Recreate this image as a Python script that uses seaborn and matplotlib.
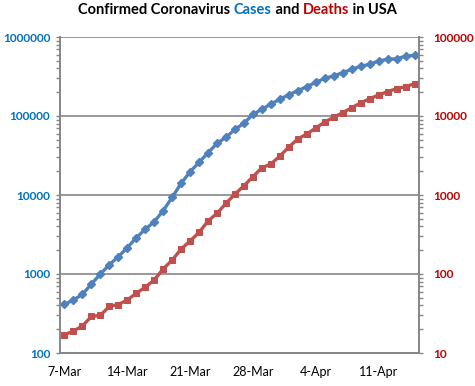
import matplotlib as mpl
import matplotlib.pyplot as plt
import matplotlib.ticker as mticker
from matplotlib.offsetbox import TextArea, HPacker, AnchoredOffsetbox
import seaborn as sns
import pandas as pd
import numpy as np

# Daily totals, 7-Mar to 15-Apr
dates = pd.date_range("2020-03-07", "2020-04-15", freq="D")
cases = [413, 469, 553, 747, 1000, 1311, 1656, 2152, 2880, 3680,
         4590, 6330, 9350, 14060, 19720, 25940, 34290, 45100, 53750, 67900,
         80850, 105100, 121600, 141900, 162600, 186200, 209000, 234900, 267000, 300000,
         322000, 353000, 390000, 426000, 451000, 497000, 522000, 531000, 570000, 586000]
deaths = [17, 19, 22, 29, 30, 39, 41, 47, 57, 68,
          84, 116, 150, 207, 262, 337, 469, 587, 785, 1030,
          1307, 1706, 2216, 2468, 3116, 4052, 5117, 5916, 7046, 8395,
          9635, 11020, 12740, 14620, 16560, 18450, 20320, 22190, 23500, 25640]
date_labels = ["7-Mar", "14-Mar", "21-Mar", "28-Mar", "4-Apr", "11-Apr"]

df = pd.DataFrame({"day": np.arange(len(dates)), "cases": cases, "deaths": deaths})

sns.set_style("white")
plt.rcParams['font.family'] = ['Lato', 'DejaVu Sans']

grey = '#868686'
blue_line = '#4F81BD'
red_line = '#C0504D'
blue_txt = '#0070C0'
red_txt = '#C00000'

fig = plt.figure(figsize=(4.75, 3.86), dpi=100)
ax = fig.add_axes([60 / 475, 1 - 353 / 386, 359 / 475, 316 / 386])
ax2 = ax.twinx()

sns.lineplot(data=df, x="day", y="cases", ax=ax, color=blue_line, linewidth=2.4,
             marker='D', markersize=4.5, markeredgecolor=blue_line, markeredgewidth=1)
sns.lineplot(data=df, x="day", y="deaths", ax=ax2, color=red_line, linewidth=2.4,
             marker='s', markersize=5, markeredgecolor=red_line)

for a, lo, hi, col in [(ax, 100, 1e6, blue_txt), (ax2, 10, 1e5, red_txt)]:
    a.set_yscale('log')
    a.set_ylim(lo, hi)
    a.yaxis.set_major_locator(mticker.LogLocator(base=10))
    a.yaxis.set_minor_locator(mticker.LogLocator(base=10, subs=np.arange(2, 10)))
    a.yaxis.set_major_formatter(mticker.FuncFormatter(lambda v, p: f"{int(round(v))}"))
    a.yaxis.set_minor_formatter(mticker.NullFormatter())
    a.tick_params(axis='y', which='both', direction='out', length=3, width=1, color=grey,
                  labelcolor=col, labelsize=8.5)
    for lab in a.get_yticklabels():
        lab.set_fontweight('bold')
    a.set_ylabel("")
    a.set_xlabel("")
    for s in a.spines.values():
        s.set_color(grey)
        s.set_linewidth(1.2)
    a.spines['top'].set_visible(False)

ax.tick_params(axis='y', pad=4)
ax2.tick_params(axis='y', pad=7)
ax.yaxis.grid(True, which='major', color=grey, linewidth=1.2)
ax.set_axisbelow(True)

ax.set_xlim(-0.5, len(dates) - 0.5)
ax.set_xticks(np.arange(-0.5, 35, 7))
ax.set_xticks(np.arange(0, 40, 7), minor=True)
ax.set_xticklabels([])
ax.set_xticklabels(date_labels, minor=True)
ax.tick_params(axis='x', which='major', direction='out', length=3, width=1, color=grey)
ax.tick_params(axis='x', which='minor', length=0, pad=9, labelsize=9, labelcolor='black')

# Title with coloured words
parts = [("Confirmed Coronavirus ", 'black'), ("Cases", blue_txt), (" and ", 'black'),
         ("Deaths", red_txt), (" in USA", 'black')]
boxes = [TextArea(t, textprops=dict(color=c, fontsize=10.5, fontweight='bold')) for t, c in parts]
title = AnchoredOffsetbox(loc='center', child=HPacker(children=boxes, pad=0, sep=0),
                          bbox_to_anchor=(0.5, 1 - 10 / 386), bbox_transform=fig.transFigure,
                          frameon=False, pad=0, borderpad=0)
fig.add_artist(title)

plt.savefig("out.png", dpi=100)
